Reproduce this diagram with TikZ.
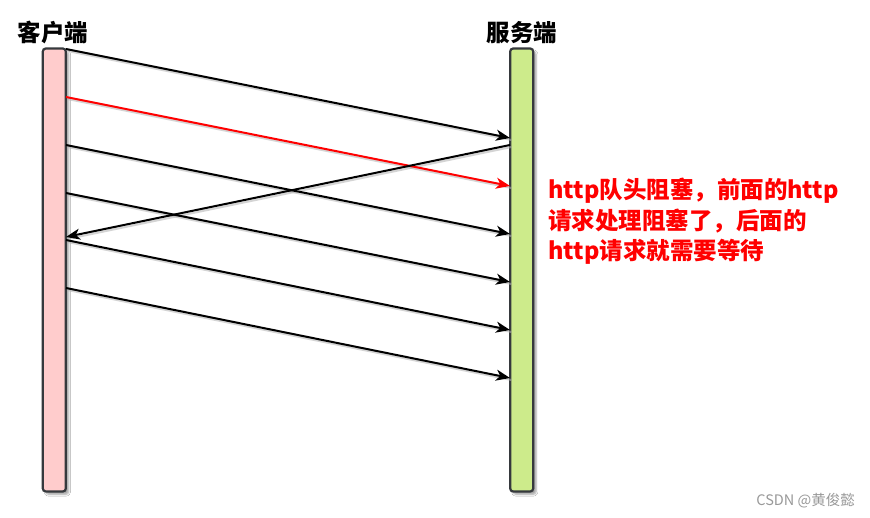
\documentclass[tikz,border=0pt]{standalone}
\usepackage{fontspec}
\newfontfamily\cjk{Noto Sans CJK SC}
\usetikzlibrary{arrows.meta,shadows.blur}
\definecolor{pinkfill}{HTML}{FFCCCC}
\definecolor{greenfill}{HTML}{CDEB8B}
\definecolor{barstroke}{HTML}{36393D}
\definecolor{wm}{HTML}{999999}
\begin{document}
\begin{tikzpicture}[x=1pt,y=-1pt,
  bar/.style={draw=barstroke,line width=2.2pt,rounded corners=3pt,minimum width=23pt,minimum height=443pt,inner sep=0pt,
    blur shadow={shadow xshift=3pt,shadow yshift=-3pt,shadow opacity=35,shadow blur steps=5}},
  title/.style={font=\cjk\bfseries\fontsize{23.5}{26}\selectfont,text=black},
  msg/.style={line width=2pt,-{Stealth[length=14pt,width=11pt,inset=4pt]}},
  shade/.style={line width=2pt,draw=black!30,opacity=0.55},
  note/.style={font=\cjk\bfseries\fontsize{23.5}{30.5}\selectfont,text=red,align=left,anchor=north west,inner sep=0pt}]
\useasboundingbox (0,0) rectangle (870,518);
\fill[white] (0,0) rectangle (870,518);
% bars
\node[bar,fill=pinkfill] (client) at (54.3,270) {};
\node[bar,fill=greenfill] (server) at (521.7,270) {};
\node[title] (clab) at (53,33) {客户端};
\node[title] (slab) at (522,33) {服务端};
% endpoints
\foreach \i/\a/\b in {1/49/138,2/97/186,3/145/234,4/193/282,5/240/330,6/288/378}{
  \coordinate (c\i) at (66,\a);
  \coordinate (s\i) at (510,\b);
}
\coordinate (sb) at (510,145);
\coordinate (cb) at (66,237);
% shadows of lines
\foreach \i in {1,2,3,4,5,6}{ \draw[shade] ([shift={(1.5,2)}]c\i) -- ([shift={(1.5,2)}]s\i); }
\draw[shade] ([shift={(1.5,2)}]sb) -- ([shift={(1.5,2)}]cb);
% messages
\draw[msg] (c1) -- (s1);
\draw[msg,red] (c2) -- (s2);
\draw[msg] (c3) -- (s3);
\draw[msg] (sb) -- (cb);
\draw[msg] (c4) -- (s4);
\draw[msg] (c5) -- (s5);
\draw[msg] (c6) -- (s6);
% note
\node[note] (note) at (548,178) {http队头阻塞，前面的http\\请求处理阻塞了，后面的\\http请求就需要等待};
% watermark
\node[font=\cjk\fontsize{14.5}{16}\selectfont,text=wm,anchor=east,inner sep=0pt] (wmark) at (855,501) {CSDN @黄俊懿};
\end{tikzpicture}
\end{document}
